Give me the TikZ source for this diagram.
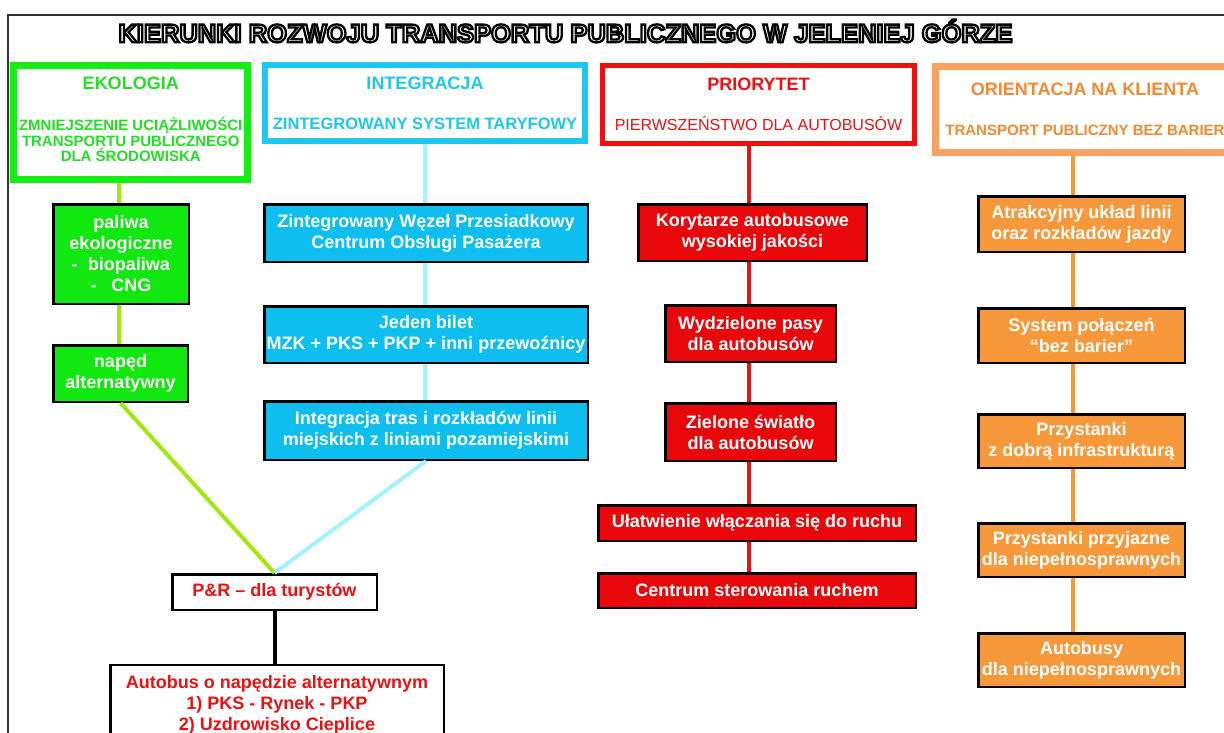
\documentclass[tikz,border=0pt]{standalone}
\usepackage{fontspec}
\setmainfont{Liberation Sans}
\usetikzlibrary{positioning, calc}

% hollow letters of the title: white fill, black stroke
\newcommand{\hollowtext}[1]{%
    \textcolor{white}{\special{pdf:literal direct 0 0 0 RG 2 Tr 2.3 w}#1%
    \special{pdf:literal direct 0 Tr}}}

\begin{document}
\begin{tikzpicture}[
    x=1pt, y=-1pt,
    every node/.style={font=\bfseries},
]

% ---------------------------------------------------------------- colours
\definecolor{ecogreen}{HTML}{14EE14}   % ekologia frame
\definecolor{ecotext}{HTML}{26DD26}
\definecolor{ecofill}{HTML}{10E810}
\definecolor{ecolime}{HTML}{9FEA0C}    % the lime links
\definecolor{intcyan}{HTML}{1EC6F2}    % integracja
\definecolor{intfill}{HTML}{0EBEEE}
\definecolor{intlight}{HTML}{A2F3FF}
\definecolor{prired}{HTML}{EE1111}     % priorytet
\definecolor{prifill}{HTML}{E8080C}
\definecolor{cliorange}{HTML}{F9A063}  % orientacja na klienta
\definecolor{clitext}{HTML}{F38A30}
\definecolor{clifill}{HTML}{F7983A}
\definecolor{framegray}{HTML}{333333}

\tikzset{
    headbox/.style={fill=white, align=center, inner sep=0pt},
    taskbox/.style={draw=black, line width=2.5pt, align=center, inner sep=0pt,
        text=white, font=\fontsize{18}{21}\selectfont\bfseries},
    routebox/.style={taskbox, fill=white, text=prired},
    link/.style={line width=4pt},
}

% page is 1224 x 733, y runs downwards
\useasboundingbox (0,0) rectangle (1224,733);
\fill[white] (0,0) rectangle (1224,733);
\clip (0,0) rectangle (1224,733);

\draw[framegray, line width=2.8pt] (8,15) rectangle (1240,760);

\node[font=\fontsize{25.5}{28}\selectfont\bfseries] (title) at (565.5,31)
    {\hollowtext{KIERUNKI ROZWOJU TRANSPORTU PUBLICZNEGO W JELENIEJ GÓRZE}};

% ================================================================
% headers of the four columns
% ================================================================
\node[headbox, draw=ecogreen, line width=7pt, text=ecotext,
    minimum width=234pt, minimum height=114pt,
    font=\fontsize{15}{15.5}\selectfont\bfseries] (ekologia) at (130.75,122.5)
    {{\fontsize{18}{21}\selectfont EKOLOGIA}\\[25.5pt]
     ZMNIEJSZENIE UCIĄŻLIWOŚCI\\TRANSPORTU PUBLICZNEGO\\DLA ŚRODOWISKA\rule[-6pt]{0pt}{6pt}};

\node[headbox, draw=intcyan, line width=6pt, text=intcyan,
    minimum width=320pt, minimum height=76pt,
    font=\fontsize{16.5}{15.5}\selectfont\bfseries] (integracja) at (425,103)
    {{\fontsize{18}{21}\selectfont INTEGRACJA}\\[24.5pt]
     ZINTEGROWANY SYSTEM TARYFOWY};

\node[headbox, draw=prired, line width=5pt, text=prired,
    minimum width=312pt, minimum height=78pt,
    font=\fontsize{16}{15.5}\selectfont\mdseries] (priorytet) at (758.5,104.5)
    {{\fontsize{18}{21}\selectfont\bfseries PRIORYTET}\\[24.5pt]
     PIERWSZEŃSTWO DLA AUTOBUSÓW};

\node[headbox, draw=cliorange, line width=7pt, text=clitext,
    minimum width=299pt, minimum height=86pt,
    font=\fontsize{15}{15.5}\selectfont\bfseries] (klient) at (1085,109.5)
    {{\fontsize{18}{21}\selectfont ORIENTACJA NA KLIENTA}\\[24.5pt]
     TRANSPORT PUBLICZNY BEZ BARIER};

% ----------------------------------------------------------------------
% EKOLOGIA column
% ----------------------------------------------------------------------
\node[taskbox, fill=ecofill, minimum width=135.5pt, minimum height=99.5pt]
    (paliwa) at (121,254) {paliwa\\ekologiczne\\-\ \ biopaliwa\\-\ \ \ CNG};
\node[taskbox, fill=ecofill, minimum width=134.5pt, minimum height=56.5pt]
    (naped) at (120.5,373.5) {napęd\\alternatywny};

% ----------------------------------------------------------------------
% INTEGRACJA column
% ----------------------------------------------------------------------
\node[taskbox, fill=intfill, minimum width=323.5pt, minimum height=57.5pt]
    (wezel) at (426,233) {Zintegrowany Węzeł Przesiadkowy\\Centrum Obsługi Pasażera};
\node[taskbox, fill=intfill, minimum width=323.5pt, minimum height=56.5pt]
    (bilet) at (426,334.5) {Jeden bilet\\MZK + PKS + PKP + inni przewoźnicy};
\node[taskbox, fill=intfill, minimum width=323.5pt, minimum height=58.5pt]
    (trasy) at (426,430.5) {Integracja tras i rozkładów linii\\miejskich z liniami pozamiejskimi};

% ----------------------------------------------------------------------
% PRIORYTET column
% ----------------------------------------------------------------------
\node[taskbox, fill=prifill, minimum width=228.5pt, minimum height=56.5pt]
    (korytarze) at (752.5,232.5) {Korytarze autobusowe\\wysokiej jakości};
\node[taskbox, fill=prifill, minimum width=170.5pt, minimum height=56.5pt]
    (pasy) at (750.5,333.5) {Wydzielone pasy\\dla autobusów};
\node[taskbox, fill=prifill, minimum width=170.5pt, minimum height=57.5pt]
    (swiatlo) at (750.5,432) {Zielone światło\\dla autobusów};
\node[taskbox, fill=prifill, minimum width=317.5pt, minimum height=35.5pt]
    (wlaczanie) at (757,523) {Ułatwienie włączania się do ruchu};
\node[taskbox, fill=prifill, minimum width=317.5pt, minimum height=34.5pt]
    (sterowanie) at (757,590.5) {Centrum sterowania ruchem};

% ----------------------------------------------------------------------
% ORIENTACJA NA KLIENTA column
% ----------------------------------------------------------------------
\node[taskbox, fill=clifill, minimum width=206.5pt, minimum height=55.5pt]
    (uklad) at (1081.5,224) {Atrakcyjny układ linii\\oraz rozkładów jazdy};
\node[taskbox, fill=clifill, minimum width=206.5pt, minimum height=54.5pt]
    (polaczenia) at (1081.5,335.5) {System połączeń\\“bez barier”};
\node[taskbox, fill=clifill, minimum width=206.5pt, minimum height=53.5pt]
    (przystanki) at (1081.5,441) {Przystanki\\z dobrą infrastrukturą};
\node[taskbox, fill=clifill, minimum width=206.5pt, minimum height=53.5pt]
    (przyjazne) at (1081.5,550) {Przystanki przyjazne\\dla niepełnosprawnych};
\node[taskbox, fill=clifill, minimum width=206.5pt, minimum height=53.5pt]
    (autobusy) at (1081.5,660) {Autobusy\\dla niepełnosprawnych};

% ----------------------------------------------------------------------
% where green and cyan meet
% ----------------------------------------------------------------------
\node[routebox, minimum width=204.5pt, minimum height=35.5pt]
    (pr) at (274.5,592) {P\&R – dla turystów};
\node[routebox, minimum width=333.5pt, minimum height=79.5pt]
    (linia) at (277,704.5)
    {Autobus o napędzie alternatywnym\\1) PKS - Rynek - PKP\\2) Uzdrowisko Cieplice};

% ================================================================
% links
% ================================================================
\coordinate (ecospine) at (119,0);
\coordinate (intspine) at (425,0);
\coordinate (prispine) at (749,0);
\coordinate (clispine) at (1073,0);

\draw[link, ecolime] (ekologia.south -| ecospine) -- (paliwa.north -| ecospine);
\draw[link, ecolime] (paliwa.south -| ecospine) -- (naped.north -| ecospine);
\draw[link, ecolime] (naped.south) -- (pr.north);

\draw[link, intlight] (integracja.south -| intspine) -- (wezel.north -| intspine);
\draw[link, intlight] (wezel.south -| intspine) -- (bilet.north -| intspine);
\draw[link, intlight] (bilet.south -| intspine) -- (trasy.north -| intspine);
\draw[link, intlight] (trasy.south) -- (pr.north);

\draw[link, prired] (priorytet.south -| prispine) -- (korytarze.north -| prispine);
\draw[link, prired] (korytarze.south -| prispine) -- (pasy.north -| prispine);
\draw[link, prired] (pasy.south -| prispine) -- (swiatlo.north -| prispine);
\draw[link, prired] (swiatlo.south -| prispine) -- (wlaczanie.north -| prispine);
\draw[link, prired] (wlaczanie.south -| prispine) -- (sterowanie.north -| prispine);

\draw[link, clifill] (klient.south -| clispine) -- (uklad.north -| clispine);
\draw[link, clifill] (uklad.south -| clispine) -- (polaczenia.north -| clispine);
\draw[link, clifill] (polaczenia.south -| clispine) -- (przystanki.north -| clispine);
\draw[link, clifill] (przystanki.south -| clispine) -- (przyjazne.north -| clispine);
\draw[link, clifill] (przyjazne.south -| clispine) -- (autobusy.north -| clispine);

\draw[link, black] (pr.south) -- (pr.south |- linia.north);

\end{tikzpicture}
\end{document}
